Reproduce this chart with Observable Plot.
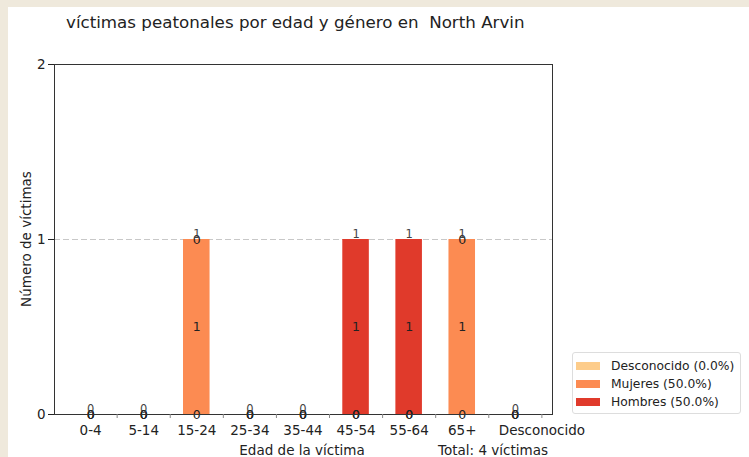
<!DOCTYPE html>
<html><head><meta charset="utf-8">
<script src="https://cdn.jsdelivr.net/npm/d3@7"></script>
<script src="https://cdn.jsdelivr.net/npm/@observablehq/plot@0.6"></script>
<style>
html,body{margin:0;padding:0;}
body{width:749px;height:457px;overflow:hidden;background:#efe9dc;font-family:"DejaVu Sans",sans-serif;position:relative;color:#222;}
#fig{position:absolute;left:8px;top:7px;width:741px;height:450px;background:#fff;}
#title{position:absolute;left:58px;top:5px;font-size:16.7px;line-height:20px;white-space:pre;}
#chart{position:absolute;left:0;top:0;}
#ylabel{position:absolute;left:18px;top:232px;transform:translate(-50%,-50%) rotate(-90deg);font-size:13.5px;white-space:nowrap;}
#xlabel{position:absolute;left:294px;top:443px;transform:translate(-50%,-50%);font-size:13.5px;white-space:nowrap;}
#total{position:absolute;left:485px;top:443px;transform:translate(-50%,-50%);font-size:13.5px;white-space:nowrap;}
#legend{position:absolute;left:564px;top:345px;width:169px;height:62px;border:1px solid #ddd;border-radius:3px;box-sizing:border-box;padding:4px 3px;font-size:12.3px;background:#fff;}
.row{display:flex;align-items:center;height:18px;}
.sw{width:24px;height:8px;margin-right:11px;flex:none;}
</style></head>
<body>
<div id="fig">
  <div id="chart"></div>
  <div id="title"></div>
  <div id="ylabel"></div>
  <div id="xlabel"></div>
  <div id="total"></div>
  <div id="legend"></div>
</div>
<script>
const titleText = "víctimas peatonales por edad y género en  North Arvin";
const yLabel = "Número de víctimas";
const xLabel = "Edad de la víctima";
const categories = ["0-4","5-14","15-24","25-34","35-44","45-54","55-64","65+","Desconocido"];
const series = ["Desconocido","Mujeres","Hombres"];
const colors = ["#fdcc8a","#fc8b52","#e03a2b"];
const desconocido = [0,0,0,0,0,0,0,0,0];
const mujeres     = [0,0,1,0,0,0,0,1,0];
const hombres     = [0,0,0,0,0,1,1,0,0];
const yTicks = [0,1,2];

const values = [desconocido, mujeres, hombres];
const rows = [];
series.forEach((s, k) => categories.forEach((c, i) => rows.push({i, cat: c, series: s, value: values[k][i]})));
const total = d3.sum(rows, d => d.value);
const pct = series.map((s, k) => (total ? 100 * d3.sum(values[k]) / total : 0).toFixed(1));

document.getElementById("title").textContent = titleText;
document.getElementById("ylabel").textContent = yLabel;
document.getElementById("xlabel").textContent = xLabel;
document.getElementById("total").textContent = `Total: ${total} víctimas`;
const lg = document.getElementById("legend");
series.forEach((s, k) => {
  const r = document.createElement("div"); r.className = "row";
  const sw = document.createElement("div"); sw.className = "sw"; sw.style.background = colors[k];
  const t = document.createElement("span"); t.textContent = `${s} (${pct[k]}%)`;
  r.appendChild(sw); r.appendChild(t); lg.appendChild(r);
});

const halfWidth = 0.25;
// label positions reproduce the reference: last label sits on the tick after its bar
const labelPos = categories.map((c, i) => i === categories.length - 1 ? i + 0.5 : i);
const labelMap = new Map(labelPos.map((p, i) => [p, categories[i]]));
const tickPos = categories.map((c, i) => i + 0.5);

const chart = Plot.plot({
  width: 741, height: 450,
  marginLeft: 46, marginRight: 197, marginTop: 57, marginBottom: 43,
  style: {fontFamily: "DejaVu Sans", fontSize: "13.5px", color: "#222", background: "transparent", overflow: "visible"},
  x: {type: "linear", domain: [-0.68, 8.7], label: null},
  y: {domain: [0, 2], label: null},
  color: {domain: series, range: colors},
  marks: [
    Plot.ruleY([1], {stroke: "#c8c8c8", strokeDasharray: "6,3"}),
    Plot.rectY(rows, {x1: d => d.i - halfWidth, x2: d => d.i + halfWidth, y: "value", fill: "series"}),
    Plot.text(rows, Plot.stackY({x: "i", y: "value", text: d => String(d.value), fill: "#222", fontSize: 12.5})),
    Plot.text(rows, Plot.groupX({y: "sum", text: "sum"}, {x: "i", y: "value", text: "value", lineAnchor: "bottom", dy: -2, fill: "#444", fontSize: 11.5})),
    Plot.frame({stroke: "#333"}),
    Plot.axisY({ticks: yTicks, tickFormat: "d", tickSize: 6, tickPadding: 3, label: null, fontSize: 13.5}),
    Plot.axisX({ticks: tickPos, tickFormat: () => "", tickSize: 4, stroke: "#888", label: null}),
    Plot.axisX({ticks: labelPos, tickFormat: p => labelMap.get(p), tickSize: 0, tickPadding: 11, label: null, fontSize: 13.5})
  ]
});
document.getElementById("chart").appendChild(chart);
</script>
</body></html>
